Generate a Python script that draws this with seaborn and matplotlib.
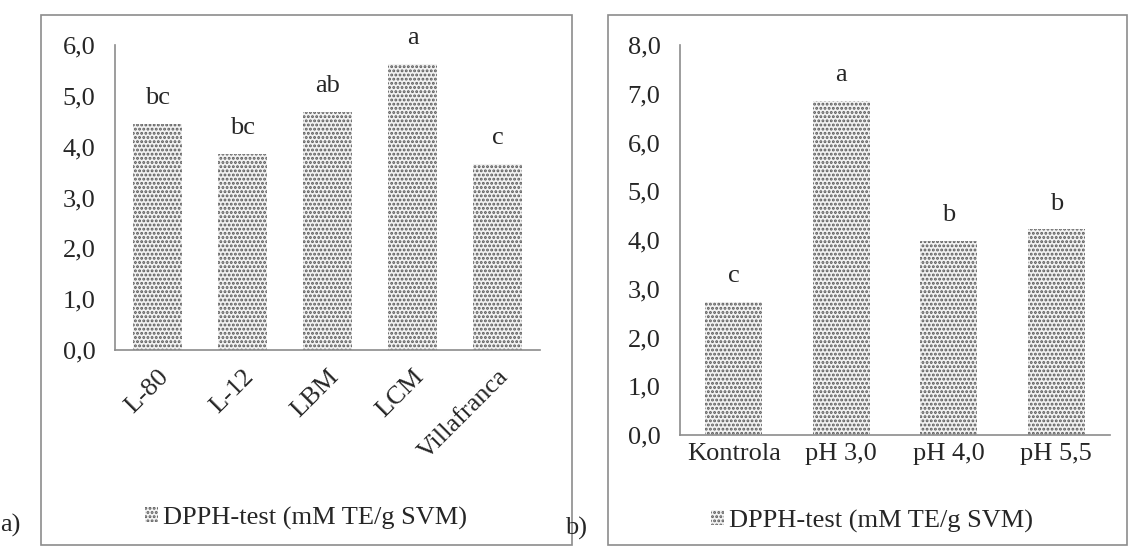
import numpy as np
import pandas as pd
import seaborn as sns
import matplotlib.pyplot as plt
from matplotlib.patches import Rectangle, Patch

# data
cult_names = ["L-80", "L-12", "LBM", "LCM", "Villafranca"]
cult_vals = [4.45, 3.85, 4.68, 5.62, 3.65]
cult_letters = ["bc", "bc", "ab", "a", "c"]

ph_names = ["Kontrola", "pH 3,0", "pH 4,0", "pH 5,5"]
ph_vals = [2.73, 6.85, 3.98, 4.22]
ph_letters = ["c", "a", "b", "b"]

legend_label = "DPPH-test (mM TE/g SVM)"

sns.set_style("white")
plt.rcParams['font.family'] = ['Liberation Serif', 'DejaVu Serif']
plt.rcParams['hatch.linewidth'] = 1.4
plt.rcParams['hatch.color'] = '#5a5a5a'

FS = 19

fig = plt.figure(figsize=(11.29, 5.48), dpi=100)

# panel frames
fig.patches.append(Rectangle((41 / 1129, 1 - 545 / 548), 531 / 1129, 530 / 548,
                             transform=fig.transFigure, fill=False,
                             edgecolor='#8c8c8c', linewidth=1.2))
fig.patches.append(Rectangle((608 / 1129, 1 - 545 / 548), 519 / 1129, 530 / 548,
                             transform=fig.transFigure, fill=False,
                             edgecolor='#8c8c8c', linewidth=1.2))

ax1 = fig.add_axes([115 / 1129, 1 - 350 / 548, 425 / 1129, 305 / 548])
ax2 = fig.add_axes([680 / 1129, 1 - 435 / 548, 430 / 1129, 390 / 548])


def comma(v, pos=None):
    return f"{v:.1f}".replace(".", ",")


def draw(ax, names, vals, letters, ymax, width, off, rot):
    df = pd.DataFrame({"name": names, "val": vals})
    sns.barplot(data=df, x="name", y="val", ax=ax, width=width,
                color='#f2f2f2', edgecolor='#5a5a5a', linewidth=0,
                hatch='....')
    ax.set_ylim(0, ymax)
    ax.set_yticks(np.arange(0, ymax + 0.01, 1.0))
    ax.yaxis.set_major_formatter(plt.FuncFormatter(comma))
    ax.set_xlim(-0.5, len(names) - 0.5)
    ax.set_xlabel("")
    ax.set_ylabel("")
    for i, (v, t) in enumerate(zip(vals, letters)):
        ax.text(i, v + off, t, ha='center', va='bottom', fontsize=FS)
    for s in ['top', 'right']:
        ax.spines[s].set_visible(False)
    for s in ['left', 'bottom']:
        ax.spines[s].set_color('#8c8c8c')
        ax.spines[s].set_linewidth(1.2)
    ax.tick_params(axis='both', length=0, labelsize=FS)
    ax.tick_params(axis='y', pad=14)
    if rot:
        ax.tick_params(axis='x', pad=11)
        plt.setp(ax.get_xticklabels(), rotation=45, ha='right',
                 rotation_mode='anchor')
    else:
        ax.tick_params(axis='x', pad=6)


draw(ax1, cult_names, cult_vals, cult_letters, 6.0, 0.58, 0.3, True)
draw(ax2, ph_names, ph_vals, ph_letters, 8.0, 0.53, 0.3, False)

handle = Patch(facecolor='#f2f2f2', edgecolor='#5a5a5a', linewidth=0, hatch='....')
for cx, cy in [(306 / 1129, 1 - 518 / 548), (872 / 1129, 1 - 521 / 548)]:
    fig.legend([handle], [legend_label], loc='center', bbox_to_anchor=(cx, cy),
               frameon=False, fontsize=FS, handlelength=0.5, handleheight=0.5,
               handletextpad=0.2)

fig.text(0, 1 - 525 / 548, "a)", fontsize=FS, va='center')
fig.text(565 / 1129, 1 - 528 / 548, "b)", fontsize=FS, va='center')

plt.savefig("out.png", dpi=100)
